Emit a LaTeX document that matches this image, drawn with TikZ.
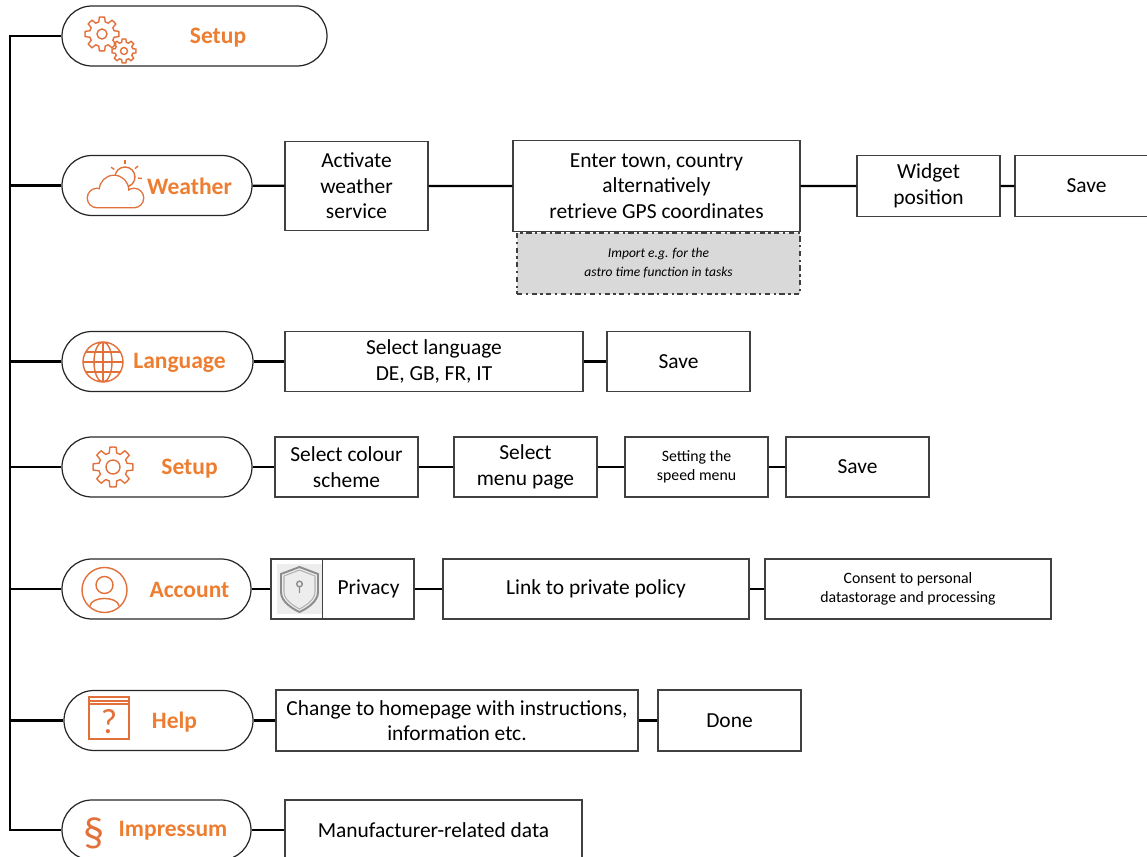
\documentclass[tikz,border=0pt]{standalone}
\usepackage{fontspec}
\setmainfont{Carlito}
\usepackage{tikz}
\definecolor{menuorange}{RGB}{237,125,49}
\definecolor{iconorange}{RGB}{226,112,58}
\definecolor{boxline}{RGB}{64,64,64}

% gear outline: centre x, centre y, outer radius, root radius, hole radius
\newcommand{\drawgear}[5]{%
  \begin{scope}[shift={(#1,#2)}]
    \draw[icon] (0:#3) \foreach \a in {0,45,...,315}{
        -- ({\a+9}:#3) -- ({\a+15}:#4) -- ({\a+30}:#4) -- ({\a+36}:#3) -- ({\a+45}:#3)} -- cycle;
    \draw[icon] (0,0) circle[radius=#5];
  \end{scope}}

\begin{document}
\begin{tikzpicture}[x=0.02cm, y=-0.02cm, line width=1.3pt,
    pill/.style={draw=black!85, line width=0.7pt, rounded corners=0.6cm, minimum height=1.2cm},
    menutxt/.style={text=menuorange, font=\fontsize{13.4}{16}\selectfont\bfseries},
    stepbox/.style={draw=boxline, line width=0.6pt, minimum height=1.2cm, align=center,
      font=\fontsize{12.2}{14.5}\selectfont},
    smallbox/.style={stepbox, font=\fontsize{9}{10.8}\selectfont},
    notebox/.style={draw=boxline, dash dot, fill=black!15, line width=0.6pt, align=center,
      font=\fontsize{7.7}{10.8}\selectfont\itshape},
    icon/.style={draw=iconorange, line width=0.8pt},
    shieldline/.style={draw=black!45, line width=1.1pt},
    wd/.style={minimum width=#1*0.02cm},
    ht/.style={minimum height=#1*0.02cm}]
    \useasboundingbox (0,0) rectangle (1147,857);

    % menu column
    \node[pill, wd=265] (setupTop)  at (194.5,36)  {};
    \node[pill, wd=190] (weather)   at (157,185.5) {};
    \node[pill, wd=191] (language)  at (157.5,361.5) {};
    \node[pill, wd=190] (setupCol)  at (157,467)   {};
    \node[pill, wd=189] (account)   at (156.5,589) {};
    \node[pill, wd=189] (help)      at (158.5,720.5) {};
    \node[pill, wd=189] (impressum) at (156.5,830) {};

    \node[menutxt] (setupTopTxt)  at (218,38)    {Setup};
    \node[menutxt] (weatherTxt)   at (189.5,186) {Weather};
    \node[menutxt] (languageTxt)  at (179.5,363) {Language};
    \node[menutxt] (setupColTxt)  at (189.5,469) {Setup};
    \node[menutxt] (accountTxt)   at (189.5,590) {Account};
    \node[menutxt] (helpTxt)      at (174.5,722) {Help};
    \node[menutxt] (impressumTxt) at (173,831)   {Impressum};

    % icons
    \drawgear{102}{34}{17}{12.5}{5}
    \drawgear{124}{51}{12}{9}{3.5}
    \drawgear{113}{467}{20}{14.5}{7}

    \draw[icon] (125,177) circle[radius=10];
    \foreach \r in {-145,-90,-40,5}
      \draw[icon] (125,177) ++(\r:13) -- ++(\r:4);
    \begin{scope}[iconorange, line width=1.6pt]
      \draw (97,198) circle[radius=9] (114,190) circle[radius=14] (134,198) circle[radius=9]
        (97,198) rectangle (134,207);
      \fill[white] (97,198) circle[radius=9];
      \fill[white] (114,190) circle[radius=14];
      \fill[white] (134,198) circle[radius=9];
      \fill[white] (97,198) rectangle (134,207);
    \end{scope}

    \draw[icon] (103,362) circle[radius=20] ellipse[x radius=9, y radius=20];
    \draw[icon] (103,342) -- (103,382) (83,362) -- (123,362)
      (85.7,352) -- (120.3,352) (85.7,372) -- (120.3,372);

    \draw[icon] (104.5,590) circle[radius=22.5] (104.5,585) circle[radius=8.5];
    \draw[icon] (90,606) .. controls (91,596) and (118,596) .. (119,606);

    \draw[icon] (89,697) rectangle (129,739) (89,701) -- (129,701) (89,704) -- (129,704);
    \node[text=iconorange, font=\fontsize{20}{20}\selectfont] (helpMark) at (109,722) {?};
    \node[text=iconorange, font=\fontsize{24}{24}\selectfont] (paragraph) at (94,833) {§};

    % trunk
    \coordinate (trunkTop) at (10,36);
    \coordinate (trunkEnd) at (10,830);
    \draw (setupTop.west) -- (trunkTop) -- (trunkEnd) -- (impressum.west);
    \foreach \m in {weather,language,setupCol,account,help}
      \draw (\m.west) -- (\m.west -| trunkTop);

    % weather
    \node[stepbox, wd=143, ht=89] (activate) at (356.5,186) {Activate\\weather\\service};
    \node[stepbox, wd=287, ht=91] (town) at (656.5,186) {Enter town, country\\alternatively\\retrieve GPS coordinates};
    \node[notebox, wd=283, ht=61] (astro) at (658.5,263.5) {Import e.g. for the\\astro time function in tasks};
    \node[stepbox, wd=143, ht=61] (widget) at (928.5,186) {Widget\\position};
    \node[stepbox, wd=143, ht=61] (weatherSave) at (1086.5,186) {Save};
    \draw (weather) -- (activate) (activate) -- (town) (town) -- (widget) (widget) -- (weatherSave);

    % language
    \node[stepbox, wd=298] (langSelect) at (434,361.5) {Select language\\DE, GB, FR, IT};
    \node[stepbox, wd=143] (langSave) at (678.5,361.5) {Save};
    \draw (language) -- (langSelect) (langSelect) -- (langSave);

    % setup
    \node[stepbox, wd=143] (colour) at (346.5,467) {Select colour\\scheme};
    \node[stepbox, wd=143] (menuPage) at (525.5,467) {Select\\menu page};
    \node[smallbox, wd=143] (speedMenu) at (696.5,467) {Setting the\\speed menu};
    \node[stepbox, wd=143] (setupSave) at (857.5,467) {Save};
    \draw (setupCol) -- (colour) (colour) -- (menuPage) (menuPage) -- (speedMenu) (speedMenu) -- (setupSave);

    % account
    \node[stepbox, wd=143] (privacy) at (342.5,589) {};
    \fill[black!7] (277,564) rectangle (322,614);
    \draw[boxline, line width=0.6pt] (privacy.north west) ++(52,0) -- ++(0,60);
    \draw[shieldline] (281,574) -- (299.5,567) -- (318,574) -- (318,592)
      .. controls (318,602) and (306,609) .. (299.5,612)
      .. controls (293,609) and (281,602) .. (281,592) -- cycle;
    \draw[draw=black!30, line width=0.6pt] (284,576) -- (299.5,570) -- (315,576) -- (315,592)
      .. controls (315,600) and (305,606) .. (299.5,609)
      .. controls (294,606) and (284,600) .. (284,592) -- cycle;
    \draw[shieldline, line width=0.8pt] (299.5,584) circle[radius=2.8] (299.5,587) -- (299.5,593);
    \node[font=\fontsize{12.2}{14.5}\selectfont] (privacyTxt) at (368.5,589) {Privacy};
    \node[stepbox, wd=306] (policy) at (596,589) {Link to private policy};
    \node[smallbox, wd=286] (consent) at (908,589) {Consent to personal\\datastorage and processing};
    \draw (account) -- (privacy) (privacy) -- (policy) (policy) -- (consent);

    % help
    \node[stepbox, wd=362, ht=61] (homepage) at (457,720.5) {Change to homepage with instructions,\\information etc.};
    \node[stepbox, wd=143, ht=61] (done) at (729.5,720.5) {Done};
    \draw (help) -- (homepage) (homepage) -- (done);

    % impressum
    \node[stepbox, wd=297] (manufacturer) at (433.5,830) {Manufacturer-related data};
    \draw (impressum) -- (manufacturer);
\end{tikzpicture}
\end{document}
